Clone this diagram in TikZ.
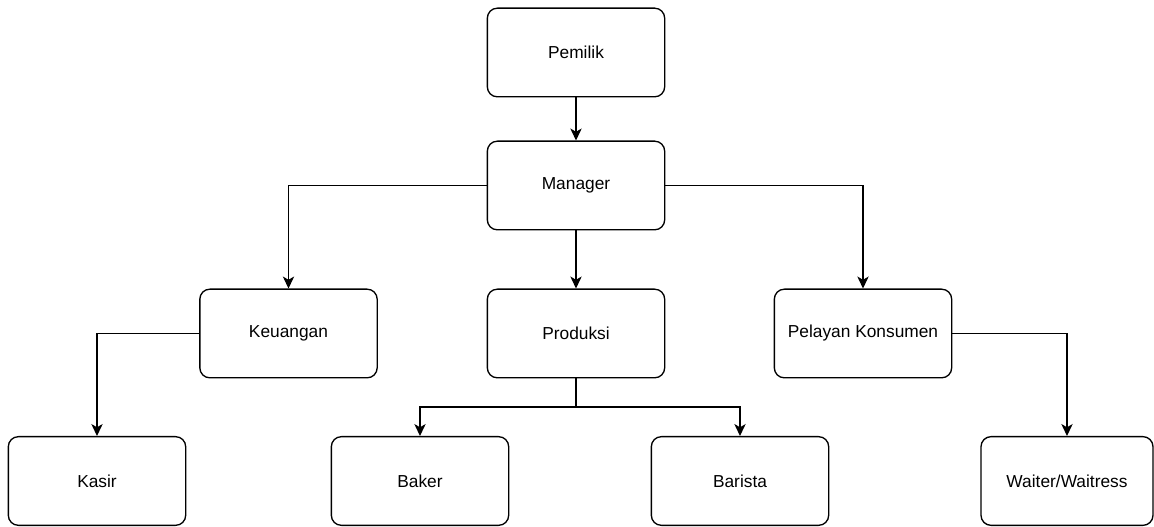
\documentclass[tikz,border=0pt]{standalone}
\usepackage{fontspec}
\setmainfont{Liberation Sans}
\usetikzlibrary{arrows.meta}
\begin{document}
\begin{tikzpicture}[x=0.75pt,y=-0.75pt,
  box/.style={draw, line width=1pt, rounded corners=7.5pt, minimum width=133pt, minimum height=66.5pt, font=\fontsize{13pt}{15pt}\selectfont, inner sep=0pt, fill=white},
  conn/.style={line width=0.9pt, -{Stealth[length=9pt,width=8.5pt,inset=2.5pt]}}]
\useasboundingbox (0,0) rectangle (1154,527);
\node[box] (pem) at (576,52.5) {Pemilik};
\node[box] (man) at (576,185.5) {Manager};
\node[box] (keu) at (288.5,333.5) {Keuangan};
\node[box] (pro) at (576,333.5) {Produksi};
\node[box] (pel) at (863,333.5) {Pelayan Konsumen};
\node[box] (kas) at (97,481) {Kasir};
\node[box] (bak) at (420,481) {Baker};
\node[box] (bar) at (740,481) {Barista};
\node[box, minimum width=129pt] (wai) at (1067,481) {Waiter/Waitress};
\coordinate (j) at (576,407);
\draw[conn] (pem) -- (man);
\draw[conn] (man) -- (pro);
\draw[conn] (man.west) -| (keu.north);
\draw[conn] (man.east) -| (pel.north);
\draw[conn] (keu.west) -| (kas.north);
\draw[conn] (pel.east) -| (wai.north);
\draw[line width=0.9pt] (pro.south) -- (j);
\draw[conn] (j) -| (bak.north);
\draw[conn] (j) -| (bar.north);
\end{tikzpicture}
\end{document}
